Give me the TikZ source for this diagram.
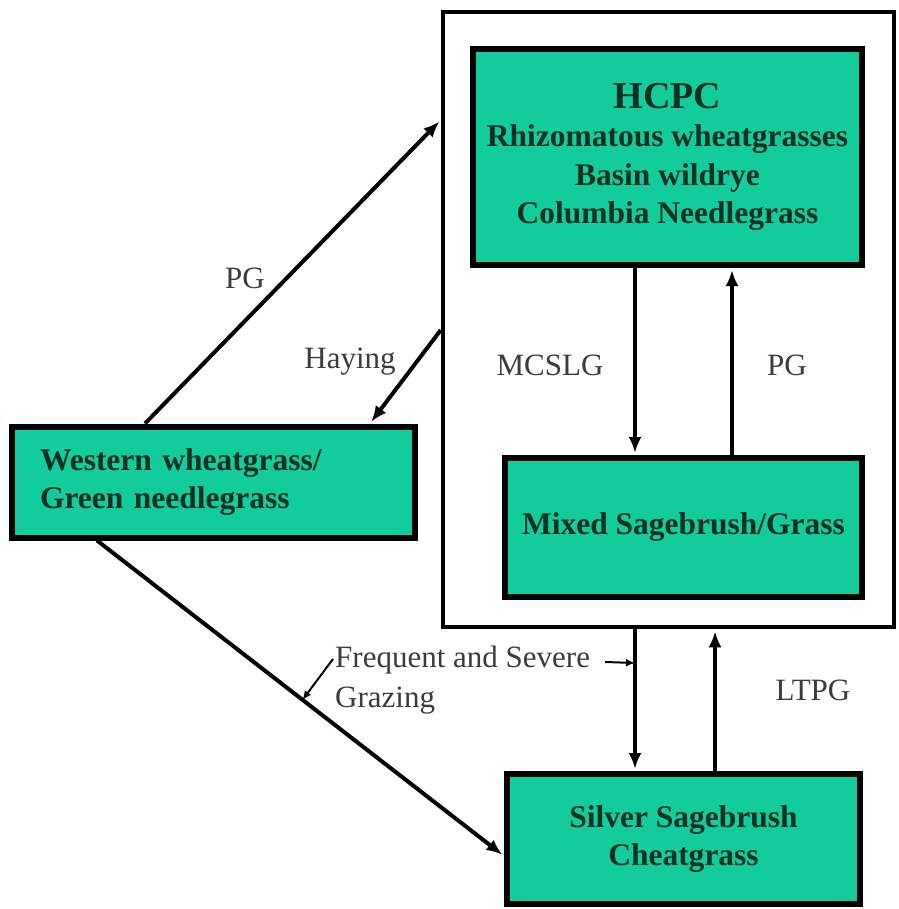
\documentclass[tikz,border=0pt]{standalone}
\usepackage{fontspec}
\setmainfont{Liberation Serif}
\usetikzlibrary{arrows.meta,calc}

\definecolor{stategreen}{RGB}{18,204,155}
\definecolor{statetext}{RGB}{12,48,34}
\definecolor{labelgray}{RGB}{60,60,60}

\tikzset{
  statebox/.style={draw=black, line width=6pt, fill=stategreen, text=statetext,
    font=\fontsize{31.5}{38.5}\selectfont\bfseries, inner sep=0pt, align=center},
  trans/.style={line width=4pt, shorten >=2pt, -{Latex[length=16pt,width=13pt]}},
  pointer/.style={line width=2pt, -{Latex[length=9pt,width=8pt]}},
  translabel/.style={text=labelgray, font=\fontsize{31}{40}\selectfont, inner sep=0pt, align=left},
}

\begin{document}
\begin{tikzpicture}[x=1pt,y=-1pt]
\useasboundingbox[fill=white] (0,0) rectangle (898,909);

% frame round the reference community
\node[draw, line width=4.5pt, minimum width=451pt, minimum height=615pt, inner sep=0pt] (frame) at (668.5,319.5) {};

% states
\node[statebox, minimum width=389pt, minimum height=216pt] (hcpc) at (667.5,157)
  {{\fontsize{38}{46}\selectfont HCPC}\\Rhizomatous wheatgrasses\\Basin wildrye\\Columbia Needlegrass};
\node[statebox, minimum width=357pt, minimum height=139pt] (mixed) at (683.5,527.5) {Mixed Sagebrush/Grass};
\node[statebox, minimum width=403pt, minimum height=111pt, text width=347pt, align=left] (western) at (213.5,482)
  {Western wheatgrass/\\Green needlegrass};
\node[statebox, minimum width=353pt, minimum height=130pt] (silver) at (683.5,839) {Silver Sagebrush\\Cheatgrass};

% transitions
\draw[trans] ([xshift=-68.5pt]western.north) -- ([yshift=199.5pt]frame.west);
\draw[trans] ([yshift=-10.5pt]frame.west) -- ([xshift=156.5pt]western.north);
\draw[trans] ([xshift=-32.5pt]hcpc.south) -- ([xshift=-48.5pt]mixed.north);
\draw[trans] ([xshift=48.5pt]mixed.north) -- ([xshift=64.5pt]hcpc.south);
\coordinate (downtop) at ([xshift=-33.5pt]frame.south);
\coordinate (downbot) at ([xshift=-48.5pt]silver.north);
\draw[trans] (downtop) -- (downbot);
\draw[trans] ([xshift=31.5pt]silver.north) -- ([xshift=46.5pt]frame.south);
\coordinate (diagtop) at ([xshift=-116.5pt]western.south);
\coordinate (diagbot) at ([yshift=-17pt]silver.west);
\draw[trans] (diagtop) -- (diagbot);

% labels
\node[translabel] (pgleft) at (245,278) {PG};
\node[translabel] (haying) at (350,362) {Haying};
\node[translabel] (mcslg) at (550,365) {MCSLG};
\node[translabel] (pgright) at (787,365) {PG};
\node[translabel] (ltpg) at (813,690) {LTPG};
\node[translabel, anchor=west] (grazing) at (335,680) {Frequent and Severe\\Grazing};

\coordinate (grazl) at (333,659);
\coordinate (grazr) at (605,662);
\draw[pointer] (grazl) -- ($(diagtop)!0.505!(diagbot)$);
\draw[pointer] (grazr) -- ($(downtop)!0.238!(downbot)$);
\end{tikzpicture}
\end{document}
